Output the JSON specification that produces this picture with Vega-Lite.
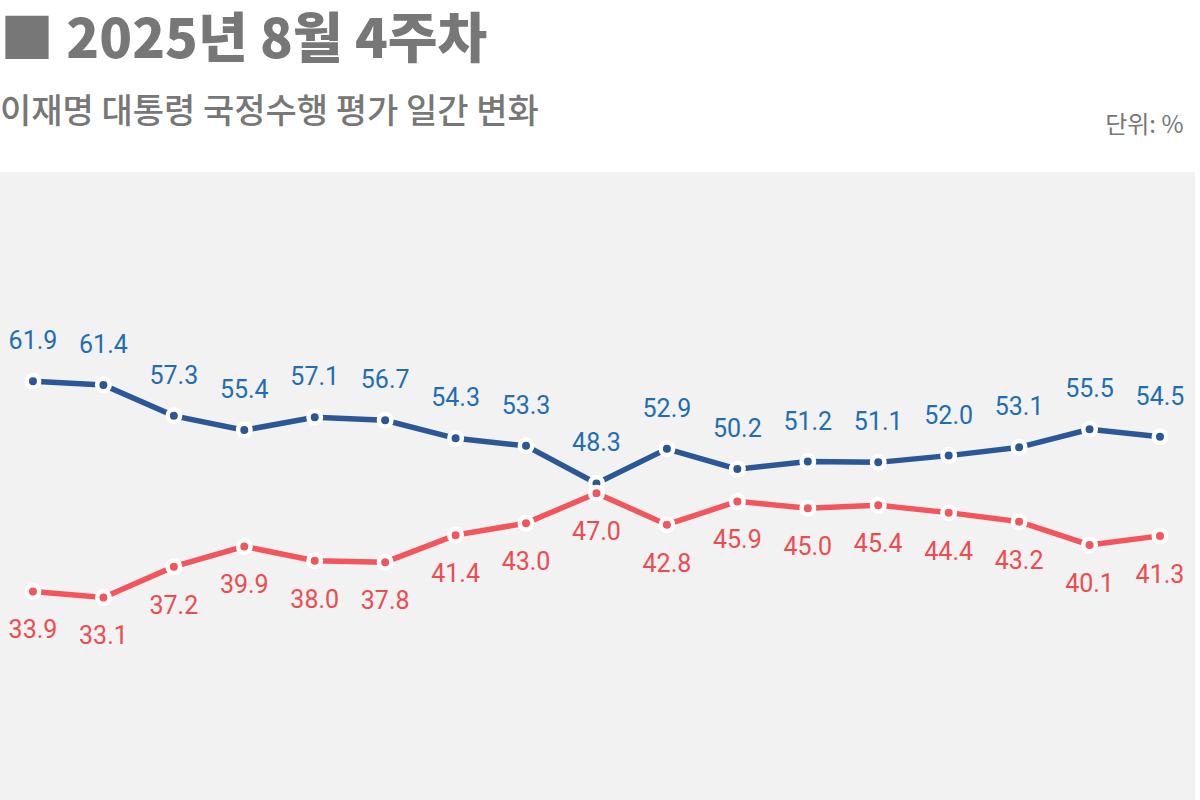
{
  "$schema": "https://vega.github.io/schema/vega-lite/v6.json",
  "autosize": {"type": "none"},
  "padding": {"top": 172, "left": 0, "right": 5, "bottom": 0},
  "width": 1195,
  "height": 628,
  "background": "#ffffff",
  "config": {
    "font": "Noto Sans CJK KR",
    "view": {"fill": "#f2f2f2", "stroke": null}
  },
  "title": {
    "text": "■ 2025년 8월 4주차",
    "subtitle": "이재명 대통령 국정수행 평가 일간 변화",
    "anchor": "start",
    "offset": -17,
    "font": "Noto Sans CJK KR",
    "fontSize": 54,
    "fontWeight": 900,
    "color": "#777777",
    "subtitleFont": "Noto Sans CJK KR",
    "subtitleFontSize": 34,
    "subtitleFontWeight": 500,
    "subtitleColor": "#777777",
    "subtitlePadding": 27
  },
  "datasets": {
    "poll": [
      {"i": 0, "s": "긍정", "v": 61.9}, {"i": 1, "s": "긍정", "v": 61.4},
      {"i": 2, "s": "긍정", "v": 57.3}, {"i": 3, "s": "긍정", "v": 55.4},
      {"i": 4, "s": "긍정", "v": 57.1}, {"i": 5, "s": "긍정", "v": 56.7},
      {"i": 6, "s": "긍정", "v": 54.3}, {"i": 7, "s": "긍정", "v": 53.3},
      {"i": 8, "s": "긍정", "v": 48.3}, {"i": 9, "s": "긍정", "v": 52.9},
      {"i": 10, "s": "긍정", "v": 50.2}, {"i": 11, "s": "긍정", "v": 51.2},
      {"i": 12, "s": "긍정", "v": 51.1}, {"i": 13, "s": "긍정", "v": 52.0},
      {"i": 14, "s": "긍정", "v": 53.1}, {"i": 15, "s": "긍정", "v": 55.5},
      {"i": 16, "s": "긍정", "v": 54.5},
      {"i": 0, "s": "부정", "v": 33.9}, {"i": 1, "s": "부정", "v": 33.1},
      {"i": 2, "s": "부정", "v": 37.2}, {"i": 3, "s": "부정", "v": 39.9},
      {"i": 4, "s": "부정", "v": 38.0}, {"i": 5, "s": "부정", "v": 37.8},
      {"i": 6, "s": "부정", "v": 41.4}, {"i": 7, "s": "부정", "v": 43.0},
      {"i": 8, "s": "부정", "v": 47.0}, {"i": 9, "s": "부정", "v": 42.8},
      {"i": 10, "s": "부정", "v": 45.9}, {"i": 11, "s": "부정", "v": 45.0},
      {"i": 12, "s": "부정", "v": 45.4}, {"i": 13, "s": "부정", "v": 44.4},
      {"i": 14, "s": "부정", "v": 43.2}, {"i": 15, "s": "부정", "v": 40.1},
      {"i": 16, "s": "부정", "v": 41.3}
    ]
  },
  "data": {"name": "poll"},
  "encoding": {
    "x": {
      "field": "i",
      "type": "quantitative",
      "scale": {"domain": [-0.468, 16.497], "nice": false, "zero": false},
      "axis": {
        "orient": "top",
        "labels": false,
        "ticks": false,
        "domain": false,
        "grid": false,
        "title": "단위: %",
        "titleFont": "Noto Sans CJK KR",
        "titleFontSize": 24,
        "titleFontWeight": "normal",
        "titleColor": "#777777",
        "titleAnchor": "end",
        "titleAlign": "right",
        "titleBaseline": "alphabetic",
        "titleX": 1183,
        "titleY": -40
      }
    },
    "y": {
      "field": "v",
      "type": "quantitative",
      "scale": {"domain": [6.1, 89.8], "nice": false, "zero": false},
      "axis": null
    }
  },
  "layer": [
    {
      "mark": {"type": "line", "strokeWidth": 5.5},
      "encoding": {
        "color": {
          "field": "s",
          "type": "nominal",
          "scale": {"domain": ["긍정", "부정"], "range": ["#2b5797", "#f4545b"]},
          "legend": null
        }
      }
    },
    {
      "mark": {"type": "point", "shape": "circle", "filled": true, "size": 156, "stroke": "#ffffff", "strokeWidth": 4.5, "opacity": 1},
      "encoding": {
        "fill": {
          "field": "s",
          "type": "nominal",
          "scale": {"domain": ["긍정", "부정"], "range": ["#2b5797", "#f4545b"]},
          "legend": null
        }
      }
    },
    {
      "transform": [{"filter": "datum.s === '긍정'"}],
      "mark": {"type": "text", "font": "Roboto", "fontSize": 25, "baseline": "alphabetic", "dy": -32, "color": "#1f6db4"},
      "encoding": {"text": {"field": "v", "type": "quantitative", "format": ".1f"}}
    },
    {
      "transform": [{"filter": "datum.s === '부정'"}],
      "mark": {"type": "text", "font": "Roboto", "fontSize": 25, "baseline": "alphabetic", "dy": 47, "color": "#ee4b50"},
      "encoding": {"text": {"field": "v", "type": "quantitative", "format": ".1f"}}
    }
  ]
}
